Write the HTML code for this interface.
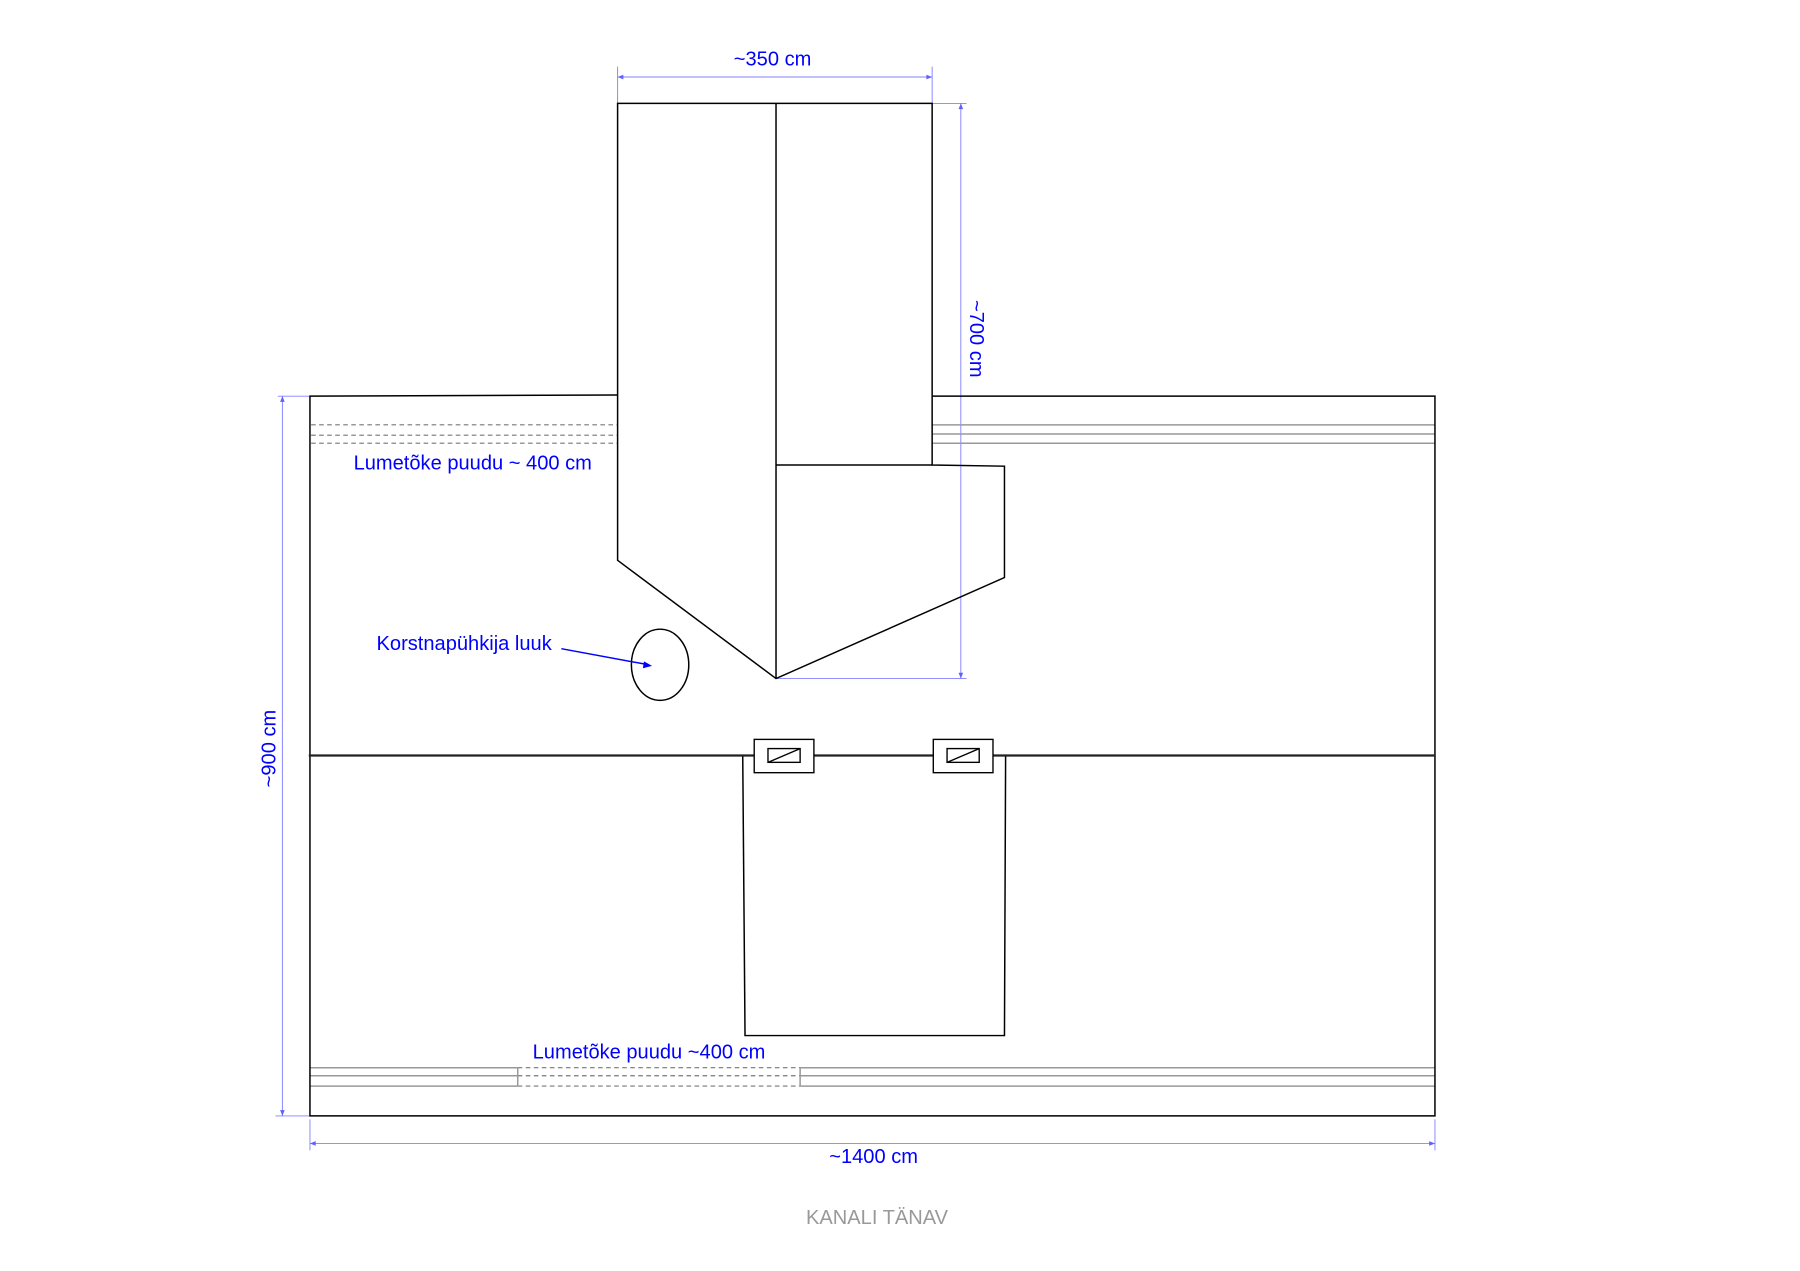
<!DOCTYPE html>
<html><head><meta charset="utf-8"><style>
html,body{margin:0;padding:0;background:#fff;}
svg{display:block;}
text{font-family:"Liberation Sans",sans-serif;}
</style></head><body>
<svg width="1800" height="1271" viewBox="0 0 1568 1107" xmlns="http://www.w3.org/2000/svg">
<rect width="1568" height="1107" fill="#fff"/>
<g stroke="#8080ff" stroke-width="0.8" fill="none">
<line x1="538" y1="58" x2="538" y2="90"/><line x1="812" y1="58" x2="812" y2="90"/>
<line x1="538" y1="67" x2="812" y2="67"/>
<line x1="812" y1="90" x2="842" y2="90"/><line x1="676" y1="591" x2="842" y2="591"/>
<line x1="837" y1="90" x2="837" y2="591"/>
<line x1="242" y1="345" x2="270" y2="345"/><line x1="240" y1="972" x2="270" y2="972"/>
<line x1="246" y1="345" x2="246" y2="972"/>
<line x1="270" y1="975" x2="270" y2="1002"/><line x1="1250" y1="975" x2="1250" y2="1002"/>
<line x1="270" y1="996" x2="1250" y2="996"/>
</g>
<g fill="#6060ff">
<path d="M538 67 l5 -2 v4z M812 67 l-5 -2 v4z M837 90 l-2 5 h4z M837 591 l-2 -5 h4z M246 345 l-2 5 h4z M246 972 l-2 -5 h4z M270 996 l5 -2 v4z M1250 996 l-5 -2 v4z"/>
</g>
<g fill="#0000ff" font-size="17.5">
<text x="673" y="57" text-anchor="middle">~350 cm</text>
<text transform="translate(845,295) rotate(90)" text-anchor="middle">~700 cm</text>
<text transform="translate(240,652) rotate(-90)" text-anchor="middle">~900 cm</text>
<text x="761" y="1013" text-anchor="middle">~1400 cm</text>
<text x="308" y="409">Lumetõke puudu ~ 400 cm</text>
<text x="328" y="566">Korstnapühkija luuk</text>
<text x="464" y="922">Lumetõke puudu ~400 cm</text>
</g>
<text x="764" y="1066" text-anchor="middle" fill="#999" font-size="17.5">KANALI TÄNAV</text>
<g stroke="#777" stroke-width="1" fill="none" stroke-dasharray="4 3">
<line x1="271" y1="370" x2="538" y2="370"/><line x1="271" y1="379" x2="538" y2="379"/><line x1="271" y1="386" x2="538" y2="386"/>
<line x1="451" y1="930" x2="697" y2="930"/><line x1="451" y1="937" x2="697" y2="937"/><line x1="451" y1="946" x2="697" y2="946"/>
</g>
<g stroke="#999" stroke-width="1.3" fill="none">
<line x1="812" y1="370" x2="1250" y2="370"/><line x1="812" y1="378" x2="1250" y2="378"/><line x1="812" y1="386" x2="1250" y2="386"/>
<line x1="270" y1="930" x2="451" y2="930"/><line x1="270" y1="937" x2="451" y2="937"/><line x1="270" y1="946" x2="451" y2="946"/>
<line x1="697" y1="930" x2="1250" y2="930"/><line x1="697" y1="937" x2="1250" y2="937"/><line x1="697" y1="946" x2="1250" y2="946"/>
<line x1="451" y1="930" x2="451" y2="946"/><line x1="697" y1="930" x2="697" y2="946"/>
</g>
<g stroke="#000" stroke-width="1.3" fill="none">
<polyline points="538,344 270,345 270,972 1250,972 1250,345 812,345"/>
<polygon points="538,90 812,90 812,405 875,406 875,503 676,591 538,488"/>
<line x1="676" y1="90" x2="676" y2="591"/>
<line x1="676" y1="405" x2="812" y2="405"/>
<ellipse cx="575" cy="579" rx="25" ry="31"/>
<polyline points="647,658 649,902 875,902 876,658"/>
</g>
<line x1="269" y1="658" x2="1250" y2="658" stroke="#222" stroke-width="2"/>
<g stroke="#000" stroke-width="1.2" fill="#fff">
<rect x="657" y="644" width="52" height="29"/>
<rect x="813" y="644" width="52" height="29"/>
<rect x="669" y="652" width="28" height="12"/>
<rect x="825" y="652" width="28" height="12"/>
<line x1="669" y1="664" x2="697" y2="652"/>
<line x1="825" y1="664" x2="853" y2="652"/>
</g>
<line x1="489" y1="565" x2="565" y2="579" stroke="#0000ff" stroke-width="1.3"/>
<path d="M568 580 l-7 -4 l-1 6z" fill="#0000ff"/>
</svg>
</body></html>
